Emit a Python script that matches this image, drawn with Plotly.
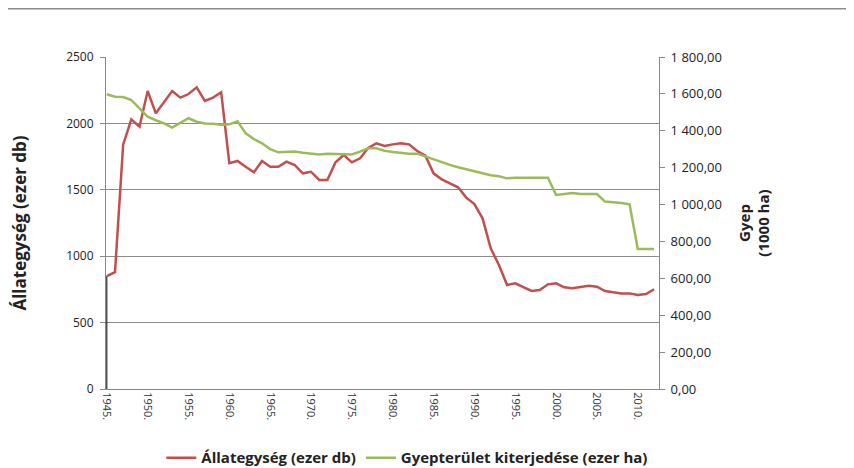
import plotly.graph_objects as go

years = list(range(1945, 2013))

allategyseg = [850, 880, 1840, 2030, 1975, 2244, 2076, 2156, 2244, 2194,
               2221, 2272, 2169, 2194, 2234, 1700, 1717, 1674, 1632, 1717,
               1674, 1674, 1712, 1687, 1624, 1636, 1574, 1574, 1707, 1762,
               1707, 1737, 1815, 1850, 1830, 1842, 1850, 1842, 1792, 1757,
               1624, 1579, 1549, 1519, 1441, 1393, 1285, 1059, 934, 783,
               796, 766, 738, 745, 788, 796, 766, 758, 766, 778,
               770, 738, 728, 720, 720, 708, 715, 751]

gyep = [1598, 1585, 1583, 1567, 1522, 1476, 1457, 1440, 1417, 1444,
        1468, 1449, 1440, 1438, 1433, 1435, 1451, 1386, 1355, 1332,
        1301, 1283, 1283, 1287, 1281, 1276, 1272, 1276, 1276, 1276,
        1272, 1287, 1305, 1305, 1292, 1285, 1280, 1276, 1276, 1260,
        1245, 1232, 1215, 1202, 1191, 1178, 1167, 1159, 1153, 1142,
        1146, 1146, 1146, 1146, 1146, 1052, 1057, 1063, 1057, 1057,
        1057, 1016, 1014, 1008, 1001, 759, 759, 759]

x_tick_vals = list(range(1945, 2011, 5))
x_tick_text = [f"{y}." for y in x_tick_vals]

left_tick_vals = [0, 500, 1000, 1500, 2000, 2500]
right_tick_vals = [0, 200, 400, 600, 800, 1000, 1200, 1400, 1600, 1800]
right_tick_text = ["0,00", "200,00", "400,00", "600,00", "800,00", "1 000,00",
                   "1 200,00", "1 400,00", "1 600,00", "1 800,00"]

RED = "#C0504D"
GREEN = "#9BBB59"
FONT = "Open Sans"

# page has an 8px body margin, so figure is 846x460 placed at (8,8)
W, H = 846, 460
L, T = 98, 49
PW, PH = 553, 332

fig = go.Figure()

# drop line from first point to axis
fig.add_trace(go.Scatter(x=[years[0], years[0]], y=[0, allategyseg[0]], mode="lines",
                         line=dict(color="black", width=1), showlegend=False,
                         hoverinfo="skip"))

fig.add_trace(go.Scatter(x=years, y=allategyseg, mode="lines", name="Állategység (ezer db)",
                         line=dict(color=RED, width=2.5)))
fig.add_trace(go.Scatter(x=years, y=gyep, mode="lines", name="Gyepterület kiterjedése (ezer ha)",
                         line=dict(color=GREEN, width=2.5), yaxis="y2"))

fig.update_layout(
    width=W, height=H,
    margin=dict(l=L, r=W - L - PW, t=T, b=H - T - PH, autoexpand=False),
    paper_bgcolor="white", plot_bgcolor="white",
    font=dict(family=FONT, color="#222222", size=11),
    xaxis=dict(range=[1944.9, 2012.6], tickvals=x_tick_vals, ticktext=x_tick_text,
               tickangle=90, showgrid=False, zeroline=False, showline=True, automargin=False,
               linecolor="#888888", linewidth=1, ticks="", tickfont=dict(size=11, color="#333333")),
    yaxis=dict(range=[0, 2500], tickvals=left_tick_vals, showgrid=True, gridcolor="#8c8c8c",
               gridwidth=1, zeroline=False, showline=True, linecolor="#888888", linewidth=1,
               ticks="outside", ticklen=5, tickcolor="#888888", automargin=False,
               ticklabelstandoff=4,
               tickfont=dict(size=12, color="#222222"),
               title=dict(text="<b>Állategység (ezer db)</b>", font=dict(size=17),
                          standoff=42)),
    yaxis2=dict(range=[0, 1800], tickvals=right_tick_vals, ticktext=right_tick_text,
                overlaying="y", side="right", showgrid=False, zeroline=False,
                showline=True, linecolor="#888888", linewidth=1, automargin=False,
                ticks="outside", ticklen=5, tickcolor="#888888",
                ticklabelstandoff=3,
                tickfont=dict(size=13, color="#222222"),
                title=dict(text="<b>Gyep<br>(1000 ha)</b>", font=dict(size=15), standoff=18)),
    legend=dict(orientation="h", x=0.472, xanchor="center", xref="container",
                y=0.022, yanchor="middle", yref="container",
                font=dict(size=15, color="#222222", weight="bold"), traceorder="normal"),
    showlegend=True,
    shapes=[dict(type="line", xref="paper", yref="paper", x0=-0.2, x1=1.36,
                 y0=(T + PH - 0.8) / PH, y1=(T + PH - 0.8) / PH,
                 line=dict(color="#8c8c8c", width=1.5))],
)

fig.write_html("out.html")
